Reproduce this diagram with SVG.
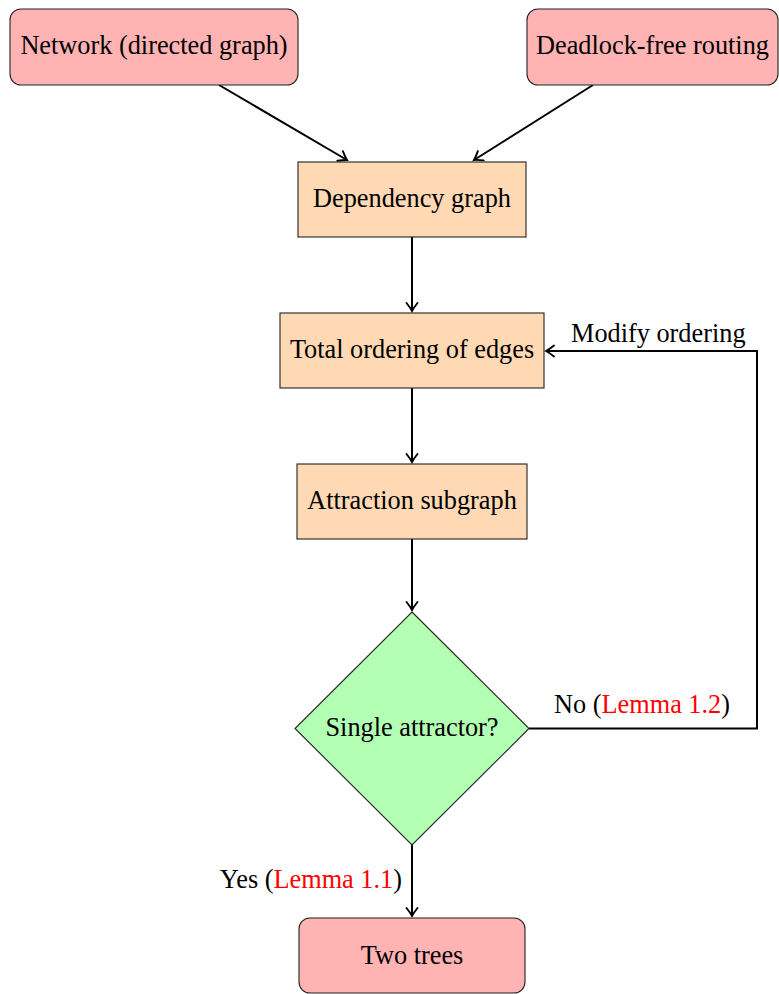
<svg xmlns="http://www.w3.org/2000/svg" width="779" height="994" viewBox="0 0 779 994">
<defs>
<style>
.t{font-family:"Liberation Serif","Times New Roman",serif;font-size:26.3px;fill:#000;text-anchor:middle}
.lbl{font-family:"Liberation Serif","Times New Roman",serif;font-size:26.3px;fill:#000}
.red{fill:#FF0000}
.term{fill:#FFB3B3;stroke:#222;stroke-width:1.1}
.proc{fill:#FFD9B3;stroke:#222;stroke-width:1.1}
.dec{fill:#B3FFB3;stroke:#222;stroke-width:1.1}
.c{fill:none;stroke:#000;stroke-width:2}
</style>
<marker id="ah" markerUnits="userSpaceOnUse" markerWidth="16" markerHeight="16" viewBox="-10 -8 12 16" refX="0" refY="0" orient="auto">
<path d="M-8,-5.5 Q-3,-1.5 0,0 Q-3,1.5 -8,5.5" fill="none" stroke="#000" stroke-width="1.9" stroke-linecap="round"/>
</marker>
</defs>
<rect width="779" height="994" fill="#fff"/>
<g id="connectors">
<line class="c" x1="219" y1="85" x2="347" y2="160" marker-end="url(#ah)"/>
<line class="c" x1="593" y1="85" x2="474" y2="160" marker-end="url(#ah)"/>
<line class="c" x1="412" y1="237" x2="412" y2="311" marker-end="url(#ah)"/>
<line class="c" x1="412" y1="388" x2="412" y2="462" marker-end="url(#ah)"/>
<line class="c" x1="412" y1="539" x2="412" y2="610" marker-end="url(#ah)"/>
<line class="c" x1="412" y1="845" x2="412" y2="916" marker-end="url(#ah)"/>
<polyline class="c" points="529,728.5 757,728.5 757,351 546,351" marker-end="url(#ah)"/>
<text class="lbl" x="571" y="342">Modify ordering</text>
<text class="lbl" x="554" y="713">No (<tspan class="red">Lemma 1.2</tspan>)</text>
<text class="lbl" x="402" y="888" style="text-anchor:end">Yes (<tspan class="red">Lemma 1.1</tspan>)</text>
</g>
<g id="network">
<rect class="term" x="10" y="9" width="288" height="76" rx="11"/>
<text class="t" x="154" y="54">Network (directed graph)</text>
</g>
<g id="routing">
<rect class="term" x="527" y="9" width="251" height="76" rx="11"/>
<text class="t" x="652.5" y="54">Deadlock-free routing</text>
</g>
<g id="dependency">
<rect class="proc" x="298" y="162" width="228" height="75"/>
<text class="t" x="412" y="206.5">Dependency graph</text>
</g>
<g id="ordering">
<rect class="proc" x="280" y="313" width="264" height="75"/>
<text class="t" x="412" y="357.5">Total ordering of edges</text>
</g>
<g id="attraction">
<rect class="proc" x="297" y="464" width="230" height="75"/>
<text class="t" x="412" y="508.5">Attraction subgraph</text>
</g>
<g id="decision">
<polygon class="dec" points="412,612 529,728.5 412,845 295,728.5"/>
<text class="t" x="412" y="735.5">Single attractor?</text>
</g>
<g id="trees">
<rect class="term" x="299" y="918" width="226" height="75" rx="11"/>
<text class="t" x="412" y="963.5">Two trees</text>
</g>
</svg>
